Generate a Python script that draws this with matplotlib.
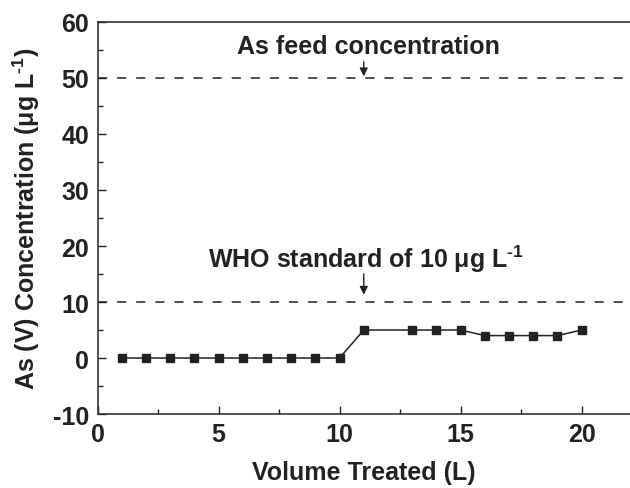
import matplotlib
matplotlib.use("Agg")
import matplotlib.pyplot as plt
from matplotlib.ticker import MultipleLocator

plt.rcParams['font.family'] = ['Liberation Sans', 'DejaVu Sans']
plt.rcParams['font.weight'] = 'bold'
plt.rcParams['mathtext.fontset'] = 'custom'
plt.rcParams['mathtext.rm'] = 'Liberation Sans:bold'
plt.rcParams['mathtext.bf'] = 'Liberation Sans:bold'
plt.rcParams['mathtext.default'] = 'rm'
plt.rcParams['axes.unicode_minus'] = False

# data
volume = [1, 2, 3, 4, 5, 6, 7, 8, 9, 10, 11, 13, 14, 15, 16, 17, 18, 19, 20]
conc = [0, 0, 0, 0, 0, 0, 0, 0, 0, 0, 5, 5, 5, 5, 4, 4, 4, 4, 5]
feed_level = 50
who_level = 10
arrow_x = 11

ink = '#222222'
fs = 18

fig = plt.figure(figsize=(6.3, 4.89), dpi=100)
ax = fig.add_axes([0.1548, 0.1513, 0.8452, 0.8017])

ax.plot(volume, conc, color=ink, lw=1.1, marker='s', ms=5.5, mfc=ink, mec=ink)

ax.axhline(feed_level, color=ink, lw=1.1, ls=(0, (6.0, 6.5)))
ax.axhline(who_level, color=ink, lw=1.1, ls=(0, (6.0, 6.5)))

ax.annotate('', xy=(arrow_x, feed_level + 0.3), xytext=(arrow_x, feed_level + 2.9),
            arrowprops=dict(arrowstyle='-|>', color=ink, lw=1.0, mutation_scale=12,
                            shrinkA=0, shrinkB=0))
ax.text(arrow_x + 0.2, 54.4, 'As feed concentration', ha='center', va='baseline',
        fontsize=fs, fontweight='bold', color=ink)

ax.annotate('', xy=(arrow_x, who_level + 1.3), xytext=(arrow_x, who_level + 5.0),
            arrowprops=dict(arrowstyle='-|>', color=ink, lw=1.0, mutation_scale=12,
                            shrinkA=0, shrinkB=0))
ax.text(arrow_x + 0.1, 16.2, r'WHO standard of 10 μg L$^{\text{-1}}$', ha='center',
        va='baseline', fontsize=fs, fontweight='bold', color=ink)

ax.set_xlim(0, 22)
ax.set_ylim(-10, 60)
ax.xaxis.set_major_locator(MultipleLocator(5))
ax.xaxis.set_minor_locator(MultipleLocator(2.5))
ax.yaxis.set_major_locator(MultipleLocator(10))
ax.yaxis.set_minor_locator(MultipleLocator(5))

ax.tick_params(which='both', direction='in', colors=ink, width=1.0,
               labelsize=fs, top=False, right=False)
ax.tick_params(which='major', length=6, pad=6)
ax.tick_params(which='minor', length=3.5)
for lab in ax.get_xticklabels() + ax.get_yticklabels():
    lab.set_fontweight('bold')

for side in ['left', 'bottom', 'top']:
    ax.spines[side].set_color('#333333')
    ax.spines[side].set_linewidth(1.2)
ax.spines['right'].set_visible(False)

ax.set_xlabel('Volume Treated (L)', fontsize=fs, fontweight='bold', color=ink, labelpad=10)
ax.set_ylabel(r'As (V) Concentration (μg L$^{\text{-1}}$)', fontsize=fs, fontweight='bold',
              color=ink, labelpad=8)

fig.savefig('out.png', dpi=100)
